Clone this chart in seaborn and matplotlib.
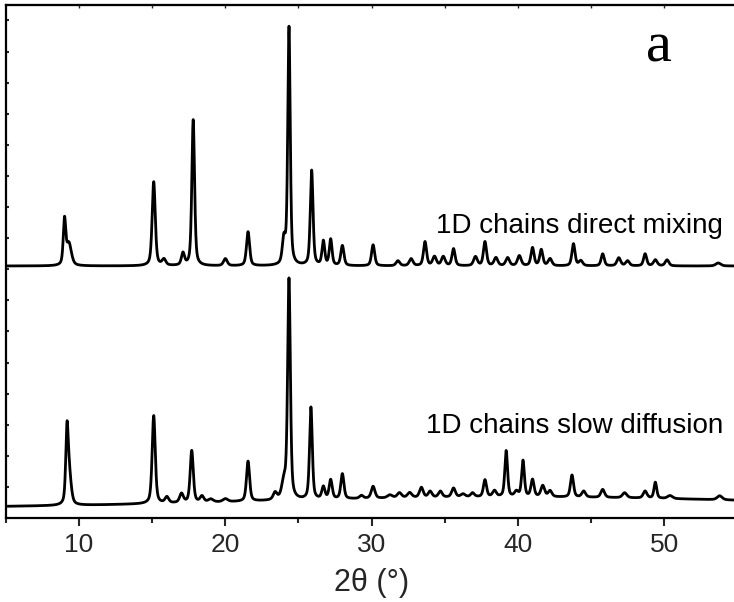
import numpy as np
import pandas as pd
import matplotlib
matplotlib.use("Agg")
import matplotlib.pyplot as plt
from matplotlib.ticker import MultipleLocator
import seaborn as sns

# ---------------- data ----------------
# peak positions (2theta, deg), heights (a.u.) and FWHM (deg)
top_pos = [9.0, 9.3, 15.1, 15.8, 17.1, 17.8, 20.0, 21.55, 24.0, 24.35, 25.9,
           26.7, 27.2, 28.0, 30.1, 31.8, 32.7, 33.65, 34.3, 34.9, 35.6, 37.1,
           37.75, 38.5, 39.3, 40.1, 41.0, 41.6, 42.2, 43.8, 44.3, 45.8, 46.9,
           47.5, 48.7, 49.4, 50.2, 53.7]
top_hgt = [44, 22, 84, 6, 12, 146, 7, 34, 24, 238, 95,
           24, 26, 20, 21, 5, 7, 24, 9, 9, 17, 9,
           24, 8, 8, 10, 18, 16, 7, 22, 5, 12, 8,
           5, 12, 6, 6, 3]
top_fwhm = [0.2, 0.4, 0.25, 0.3, 0.25, 0.22, 0.3, 0.25, 0.25, 0.2, 0.22,
            0.22, 0.22, 0.25, 0.25, 0.3, 0.3, 0.25, 0.3, 0.3, 0.25, 0.3,
            0.25, 0.3, 0.3, 0.3, 0.25, 0.25, 0.3, 0.25, 0.3, 0.25, 0.3,
            0.3, 0.25, 0.3, 0.3, 0.4]
top_base = 252

bot_pos = [9.17, 9.32, 15.1, 16.0, 17.0, 17.7, 18.4, 19.0, 20.0, 21.55, 23.4,
           24.0, 24.35, 25.85, 26.7, 27.2, 28.0, 29.3, 30.1, 31.25, 31.9, 32.6,
           33.4, 34.0, 34.7, 35.6, 36.25, 36.9, 37.75, 38.4, 39.2, 39.9, 40.35,
           41.0, 41.7, 42.2, 43.7, 44.5, 45.8, 47.3, 48.7, 49.4, 50.4, 53.8]
bot_hgt = [68, 30, 88, 6, 9, 52, 6, 3, 3, 40, 7,
           16, 220, 92, 12, 19, 25, 3, 12, 3, 5, 5,
           10, 6, 6, 9, 3, 4, 17, 6, 46, 5, 36,
           17, 11, 6, 22, 6, 8, 5, 7, 16, 3, 4]
bot_fwhm = [0.2, 0.32, 0.25, 0.3, 0.3, 0.25, 0.3, 0.4, 0.4, 0.25, 0.3,
            0.35, 0.22, 0.22, 0.25, 0.25, 0.25, 0.3, 0.3, 0.4, 0.35, 0.35,
            0.3, 0.3, 0.3, 0.3, 0.35, 0.3, 0.25, 0.3, 0.22, 0.3, 0.22,
            0.25, 0.3, 0.3, 0.25, 0.3, 0.3, 0.35, 0.3, 0.22, 0.4, 0.4]
bot_base = 10
bot_hump = (40.0, 18.0, 11.0)   # broad amorphous background: centre, sigma, height

labels = ["1D chains direct mixing", "1D chains slow diffusion"]
x_ticks = [10, 20, 30, 40, 50]


def profile(x, pos, hgt, fwhm, eta=0.5):
    y = np.zeros_like(x)
    for p, h, w in zip(pos, hgt, fwhm):
        g = np.exp(-4 * np.log(2) * ((x - p) / w) ** 2)
        l = 1.0 / (1.0 + 4 * ((x - p) / w) ** 2)
        y += h * (eta * l + (1 - eta) * g)
    return y


x = np.arange(5.0, 55.0, 0.01)
y_top = top_base + profile(x, top_pos, top_hgt, top_fwhm)
c, s, h = bot_hump
y_bot = bot_base + h * np.exp(-((x - c) ** 2) / (2 * s ** 2)) + profile(x, bot_pos, bot_hgt, bot_fwhm)

df = pd.concat([
    pd.DataFrame({"x": x, "y": y_top, "trace": labels[0]}),
    pd.DataFrame({"x": x, "y": y_bot, "trace": labels[1]}),
])

# ---------------- plotting ----------------
sns.set_style("ticks")
plt.rcParams["font.family"] = ["Liberation Sans", "DejaVu Sans"]

W, H = 734, 602
fig = plt.figure(figsize=(W / 100, H / 100), dpi=100)
ax = fig.add_axes([6 / W, 84 / H, 728 / W, 513 / H])

sns.lineplot(data=df, x="x", y="y", units="trace", estimator=None, sort=False,
             color="black", linewidth=2.0, ax=ax, legend=False)

ax.set_xlim(5, 5 + 728 / 14.625)
ax.set_ylim(0, 513)
ax.set_xlabel("")
ax.set_ylabel("")

ax.set_xticks(x_ticks)
ax.set_xticklabels([str(t) for t in x_ticks])
ax.xaxis.set_minor_locator(MultipleLocator(5))
ax.tick_params(axis="x", which="major", direction="out", length=6, width=1.5,
               labelsize=19, pad=5, top=False)
ax.tick_params(axis="x", which="minor", direction="out", length=3.5, width=1.5, top=False)

ax.yaxis.set_major_locator(MultipleLocator(31.1))
ax.tick_params(axis="y", which="major", direction="in", length=2.5, width=1.5,
               labelleft=False, left=True)

secx = ax.secondary_xaxis("top")
secx.set_xticks([10, 15, 20, 25, 30, 35, 40, 45, 50])
secx.tick_params(direction="in", length=2, width=1, labeltop=False)
secx.spines["top"].set_linewidth(1.5)

for side in ["left", "bottom", "top"]:
    ax.spines[side].set_linewidth(1.6)
    ax.spines[side].set_color("black")
ax.spines["right"].set_visible(False)

ax.text(5 + (723 - 6) / 14.625, 518 - 233, labels[0], ha="right", va="baseline",
        fontsize=20, color="black")
ax.text(5 + (723 - 6) / 14.625, 518 - 433, labels[1], ha="right", va="baseline",
        fontsize=20, color="black")
ax.text(5 + (659 - 6) / 14.625, 518 - 62, "a", ha="center", va="baseline",
        fontsize=42, family=["Liberation Serif", "DejaVu Serif"], color="black")

fig.text(372 / W, (H - 591) / H, "2θ (°)", ha="center", va="baseline", fontsize=22)

fig.savefig("out.png", dpi=100)
